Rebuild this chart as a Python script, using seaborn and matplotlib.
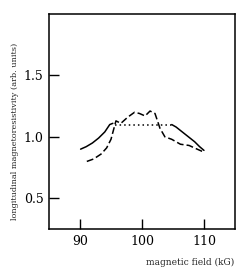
import numpy as np
import pandas as pd
import seaborn as sns
import matplotlib
matplotlib.use("Agg")
import matplotlib.pyplot as plt

# Data (field in kG, resistivity in arb. units)
solid_left_b = [90.1, 91.0, 92.0, 93.0, 94.0, 94.8, 95.3]
solid_left_r = [0.90, 0.92, 0.95, 0.99, 1.04, 1.10, 1.11]
solid_right_b = [104.8, 105.5, 106.5, 107.5, 108.5, 109.3, 110.0]
solid_right_r = [1.10, 1.08, 1.04, 1.00, 0.96, 0.92, 0.89]

dotted_b = [95.6, 104.8]
dotted_r = [1.10, 1.10]

dashed_b = [91.1, 92.2, 93.4, 94.3, 95.0, 95.8, 96.6, 97.7, 98.8, 99.6,
            100.5, 101.3, 102.1, 102.9, 103.7, 104.8, 106.2, 107.6, 108.9, 109.8]
dashed_r = [0.80, 0.82, 0.86, 0.91, 0.98, 1.13, 1.11, 1.16, 1.20, 1.19,
            1.17, 1.21, 1.19, 1.07, 1.00, 0.98, 0.94, 0.93, 0.90, 0.88]

x_ticks = [90, 100, 110]
y_ticks = [0.5, 1.0, 1.5]

sns.set_style("ticks")
plt.rcParams['font.family'] = ['DejaVu Serif']

fig = plt.figure(figsize=(2.45, 2.73), dpi=100)
ax = fig.add_axes([0.2, 0.161, 0.759, 0.788])

kw = dict(color="black", lw=1.1, ax=ax, legend=False, sort=False, estimator=None)
sns.lineplot(x=solid_left_b, y=solid_left_r, linestyle="-", **kw)
sns.lineplot(x=solid_right_b, y=solid_right_r, linestyle="-", **kw)
sns.lineplot(x=dotted_b, y=dotted_r, linestyle=(0, (1, 2)), **kw)
sns.lineplot(x=dashed_b, y=dashed_r, linestyle=(0, (4.5, 2)), **kw)

ax.set_xlim(85, 115)
ax.set_ylim(0.25, 2.0)
ax.set_xticks(x_ticks)
ax.set_yticks(y_ticks)
ax.set_xticklabels([str(t) for t in x_ticks])
ax.set_yticklabels([f"{t:.1f}" for t in y_ticks])
ax.tick_params(direction="in", length=7, width=1, labelsize=9, pad=4, colors="black")
for s in ax.spines.values():
    s.set_color("black")
    s.set_linewidth(1.1)

ax.set_xlabel("")
ax.set_ylabel("")
fig.text(0.062, 0.52, "longitudinal magnetoresistivity (arb. units)",
         rotation=90, ha="center", va="center", fontsize=5.9)
fig.text(0.955, 0.04, "magnetic field (kG)", ha="right", va="center", fontsize=6.5)

fig.savefig("out.png", dpi=100)
